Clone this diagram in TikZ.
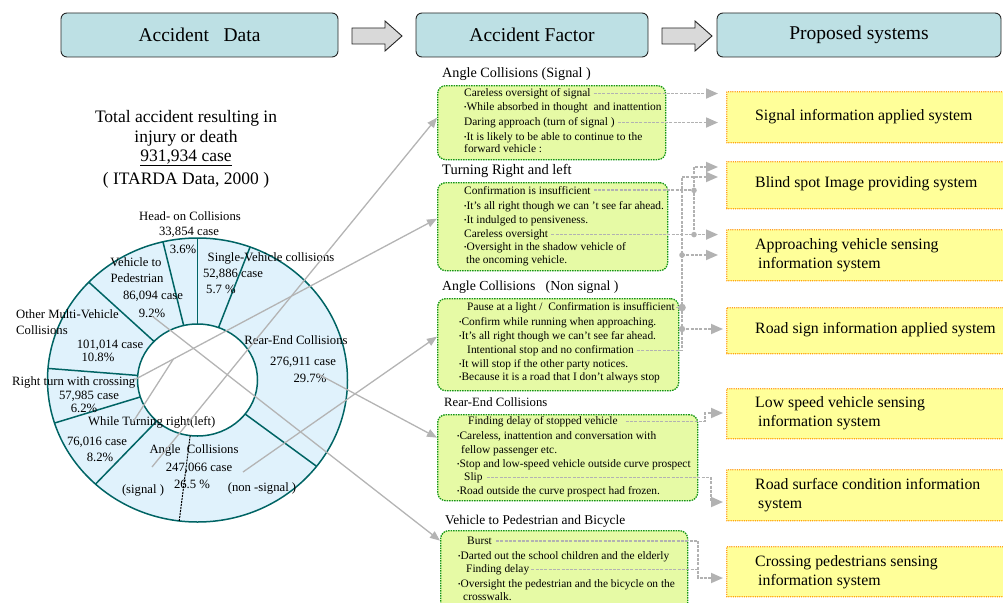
\documentclass[tikz,border=0pt]{standalone}
\usepackage{fontspec}
\setmainfont{Liberation Serif}
\usetikzlibrary{arrows.meta,calc}
\definecolor{hdrfill}{RGB}{189,224,228}
\definecolor{ringfill}{RGB}{224,242,252}
\definecolor{ringline}{RGB}{0,100,100}
\definecolor{ffill}{RGB}{230,250,165}
\definecolor{fline}{RGB}{20,150,20}
\definecolor{sfill}{RGB}{255,255,153}
\definecolor{sline}{RGB}{255,153,0}
\definecolor{cgray}{RGB}{178,178,178}
\definecolor{lgray}{RGB}{180,180,180}
\newcommand{\bu}{\raisebox{0.2ex}{\scalebox{0.6}{•}}}
\begin{document}
\begin{tikzpicture}[x=1pt,y=-1pt,
  hdr/.style={draw=black!85, fill=hdrfill, rounded corners=6pt, line width=0.9pt, minimum height=44pt, font=\fontsize{19.5}{19.5}\selectfont},
  blockarr/.style={draw=black!85, fill=black!15, line width=0.9pt},
  ring/.style={draw=ringline, line width=1.5pt},
  ttl/.style={font=\fontsize{17.5}{17.5}\selectfont, inner sep=0pt},
  dl/.style={font=\fontsize{12.7}{12.7}\selectfont, inner sep=0pt},
  dlw/.style={font=\fontsize{12.7}{12.7}\selectfont, inner sep=0pt, anchor=mid west},
  fbox/.style={draw=fline, fill=ffill, rounded corners=8pt, line width=1.3pt, dash pattern=on 1.5pt off 1pt, anchor=north west},
  fttl/.style={anchor=mid west, inner sep=0pt},
  ftx/.style={font=\fontsize{11.4}{11.4}\selectfont, anchor=mid west, inner sep=0pt},
  sbox/.style={draw=sline, fill=sfill, line width=1.5pt, line cap=round, dash pattern=on 0pt off 2.2pt, anchor=north west, minimum width=290pt},
  stx/.style={font=\fontsize{15.8}{19}\selectfont, anchor=west, inner sep=0pt, align=left},
  conn/.style={draw=cgray, line width=1.8pt, dash pattern=on 3pt off 1.3pt},
  tip/.style={-{Triangle[length=12pt,width=10pt]}},
  dline/.style={draw=lgray, line width=1.3pt, -{Triangle[length=10pt,width=8pt]}},
  dplain/.style={draw=lgray, line width=1.3pt},
  jdot/.style={fill=cgray}
  ]
\useasboundingbox (0,0) rectangle (1003,602);
\clip (0,0) rectangle (1003,602);

% ---------- header ----------
\node[hdr, minimum width=277pt] (h1) at (199.5,35) {Accident\ \ \ Data};
\node[hdr, minimum width=232pt] (h2) at (532,35) {Accident Factor};
\node[hdr, minimum width=284pt] (h3) at (859,35) {Proposed systems};
\draw[blockarr] (352,28) -- (385,28) -- (385,21) -- (402,36) -- (385,51) -- (385,44) -- (352,44) -- cycle;
\draw[blockarr] (662,28) -- (695,28) -- (695,21) -- (712,36) -- (695,51) -- (695,44) -- (662,44) -- cycle;

% ---------- donut ----------
\node[ttl] (t1) at (186,118) {Total accident resulting in};
\node[ttl] (t2) at (186,138) {injury or death};
\node[ttl] (t3) at (186,158) {\underline{931,934 case}};
\node[ttl] (t4) at (186,180) {( ITARDA Data, 2000 )};

\begin{scope}[shift={(197.5,380)}, yscale=-1]
  \fill[ringfill, even odd rule] (0,0) ellipse [x radius=150, y radius=142] (0,0) ellipse [x radius=60, y radius=56];
  \draw[ring] (0,0) ellipse [x radius=150, y radius=142];
  \draw[ring] (0,0) ellipse [x radius=60, y radius=56];
  \foreach \a in {90,69.48,-37.44,-132.84,-162.36,-184.68,-223.56,-256.68}
    \draw[ring] ({60*cos(\a)},{56*sin(\a)}) -- ({150*cos(\a)},{142*sin(\a)});
  \draw[black, line width=1pt, dash pattern=on 2pt off 1pt] ({60*cos(-97)},{56*sin(-97)}) -- ({150*cos(-97)},{142*sin(-97)});
\end{scope}

\node[dl] (ho1) at (190,216) {Head- on Collisions};
\node[dl] (ho2) at (189,232) {33,854 case};
\node[dl] (ho3) at (183,249) {3.6\%};
\node[dl] (sv1) at (271,258) {Single-Vehicle collisions};
\node[dl] (sv2) at (233,274) {52,886 case};
\node[dl] (sv3) at (221,289) {5.7 \%};
\node[dl] (vp1) at (136,262) {Vehicle to};
\node[dl] (vp2) at (137,278) {Pedestrian};
\node[dl] (vp3) at (153,296) {86,094 case};
\node[dl] (vp4) at (152,313) {9.2\%};
\node[dlw] (om1) at (16,316) {Other Multi-Vehicle};
\node[dlw] (om2) at (16,332) {Collisions};
\node[dl] (om3) at (110,345) {101,014 case};
\node[dl] (om4) at (98,357) {10.8\%};
\node[dlw] (rt1) at (12,383) {Right turn with crossing};
\node[dl] (rt2) at (89,396) {57,985 case};
\node[dl] (rt3) at (84,408) {6.2\%};
\node[dlw] (wt1) at (88,423) {While Turning right(left)};
\node[dl] (wt2) at (97,442) {76,016 case};
\node[dl] (wt3) at (100,457) {8.2\%};
\node[dl] (ac1) at (194,450) {Angle\ \ Collisions};
\node[dl] (ac2) at (199,468) {247,066 case};
\node[dl] (ac3) at (192,484) {26.5 \%};
\node[dl] (ac4) at (143,490) {(signal )};
\node[dl] (ac5) at (262,488) {(non -signal )};
\node[dl] (re1) at (296,340) {Rear-End Collisions};
\node[dl] (re2) at (303,362) {276,911 case};
\node[dl] (re3) at (310,378) {29.7\%};

% ---------- factor boxes ----------
\node[fttl, font=\fontsize{14.2}{14.2}\selectfont] (f1t) at (442,75) {Angle Collisions (Signal )};
\node[fbox, minimum width=228pt, minimum height=74pt] (f1) at (437,85) {};
\node[ftx] (f1a) at (464,94) {Careless oversight of signal};
\node[ftx] (f1b) at (464,108) {\bu While absorbed in thought\ \ and inattention};
\node[ftx] (f1c) at (464,123) {Daring approach (turn of signal )};
\node[ftx] (f1d) at (464,138) {\bu It is likely to be able to continue to the};
\node[ftx] (f1e) at (464,150) {forward vehicle :};

\node[fttl, font=\fontsize{14.5}{14.5}\selectfont] (f2t) at (442,172) {Turning Right and left};
\node[fbox, minimum width=230pt, minimum height=88pt] (f2) at (437,182) {};
\node[ftx] (f2a) at (464,192) {Confirmation is insufficient};
\node[ftx] (f2b) at (464,207) {\bu It’s all right though we can ’t see far ahead.};
\node[ftx] (f2c) at (464,221) {\bu It indulged to pensiveness.};
\node[ftx] (f2d) at (464,235) {Careless oversight};
\node[ftx] (f2e) at (464,248) {\bu Oversight in the shadow vehicle of};
\node[ftx] (f2f) at (466,261) {the oncoming vehicle.};

\node[fttl, font=\fontsize{13.8}{13.8}\selectfont] (f3t) at (442,288) {Angle Collisions\ \ \ (Non signal )};
\node[fbox, minimum width=241pt, minimum height=92pt] (f3) at (437,298) {};
\node[ftx] (f3a) at (467,308) {Pause at a light /\ \ Confirmation is insufficient};
\node[ftx] (f3b) at (459,323) {\bu Confirm while running when approaching.};
\node[ftx] (f3c) at (459,337) {\bu It’s all right though we can’t see far ahead.};
\node[ftx] (f3d) at (467,351) {Intentional stop and no confirmation};
\node[ftx] (f3e) at (459,365) {\bu It will stop if the other party notices.};
\node[ftx] (f3f) at (459,378) {\bu Because it is a road that I don't always stop};

\node[fttl, font=\fontsize{12.7}{12.7}\selectfont] (f4t) at (444,404) {Rear-End Collisions};
\node[fbox, minimum width=260pt, minimum height=86pt] (f4) at (437,414) {};
\node[ftx] (f4a) at (468,422) {Finding delay of stopped vehicle};
\node[ftx] (f4b) at (457,437) {\bu Careless, inattention and conversation with};
\node[ftx] (f4c) at (461,451) {fellow passenger etc.};
\node[ftx] (f4d) at (457,465) {\bu Stop and low-speed vehicle outside curve prospect};
\node[ftx] (f4e) at (464,478) {Slip};
\node[ftx] (f4f) at (457,492) {\bu Road outside the curve prospect had frozen.};

\node[fttl, font=\fontsize{13.4}{13.4}\selectfont] (f5t) at (445,522) {Vehicle to Pedestrian and Bicycle};
\node[fbox, minimum width=247pt, minimum height=80pt] (f5) at (440,530) {};
\node[ftx] (f5a) at (467,542) {Burst};
\node[ftx] (f5b) at (458,557) {\bu Darted out the school children and the elderly};
\node[ftx] (f5c) at (466,570) {Finding delay};
\node[ftx] (f5d) at (458,585) {\bu Oversight the pedestrian and the bicycle on the};
\node[ftx] (f5e) at (463,598) {crosswalk.};

% ---------- system boxes ----------
\node[sbox, minimum height=51pt] (s1) at (726,91) {};
\node[stx] (s1t) at (755,117) {Signal information applied system};
\node[sbox, minimum height=47pt] (s2) at (726,161) {};
\node[stx] (s2t) at (755,184) {Blind spot Image providing system};
\node[sbox, minimum height=51pt] (s3) at (726,229) {};
\node[stx] (s3t) at (755,255) {Approaching vehicle sensing\\\hspace{3pt}information system};
\node[sbox, minimum height=46pt] (s4) at (726,307) {};
\node[stx] (s4t) at (755,330) {Road sign information applied system};
\node[sbox, minimum height=50pt] (s5) at (726,388) {};
\node[stx] (s5t) at (755,413) {Low speed vehicle sensing\\\hspace{3pt}information system};
\node[sbox, minimum height=51pt] (s6) at (726,469) {};
\node[stx] (s6t) at (755,495) {Road surface condition information\\\hspace{3pt}system};
\node[sbox, minimum height=50pt] (s7) at (726,546) {};
\node[stx] (s7t) at (755,572) {Crossing pedestrians sensing\\\hspace{3pt}information system};

% ---------- donut -> factor lines ----------
\coordinate (d1) at (152,467);
\coordinate (d2) at (134,380);
\coordinate (d2b) at (133,422);
\coordinate (d3) at (243,472);
\coordinate (d4) at (318,374);
\coordinate (d5) at (152,316);
\coordinate (d2j) at ($(d2)!0.13!([yshift=8pt]f2.west)$);
\draw[dline] (d1) -- ([yshift=5pt]f1.west);
\draw[dline] (d2) -- ([yshift=8pt]f2.west);
\draw[dplain] (d2b) -- (d2j);
\draw[dline] (d3) -- ([yshift=8pt]f3.west);
\draw[dline] (d4) -- ([yshift=20pt]f4.west);
\draw[dline] (d5) -- ([yshift=30pt]f5.west);

% ---------- factor -> system connectors ----------
\coordinate (TX) at (718,0);
\coordinate (TY) at (723,0);
\coordinate (A) at (682,0);
\coordinate (B) at (694,0);
\coordinate (Btop) at (694,167);
\coordinate (Atop) at (682,177);
\coordinate (Aap) at (682,255);
\coordinate (Ars) at (682,329);
\coordinate (R1) at (705,0);
\coordinate (R2) at (711,0);
\coordinate (R3) at (698,0);
\coordinate (s5in) at (723,413);
\coordinate (s6in) at (723,502);
\coordinate (s7in) at (723,578);

\draw[conn,tip] ([xshift=3pt]f1a.east) -- (TX |- f1a.east);
\draw[conn,tip] ([xshift=3pt]f1c.east) -- (TX |- f1c.east);

\draw[conn] ([xshift=3pt]f2a.east) -- (B |- f2a.east);
\draw[conn,tip] ([xshift=3pt]f2d.east) -- (TX |- f2d.east);
\draw[conn,tip] (B |- f2d.east) -- (Btop) -- (TX |- Btop);
\fill[jdot] (B |- f2a.east) circle (2.8pt);
\fill[jdot] (B |- f2d.east) circle (2.8pt);

\draw[conn] ([xshift=3pt]f3d.east) -- (A |- f3d.east) -- (Atop);
\draw[conn,tip] (Atop) -- (TX |- Atop);
\draw[conn] ([xshift=1pt]f3a.east) -- (A |- f3a.east);
\draw[conn,tip] (Aap) -- (TX |- Aap);
\draw[conn,tip] (Ars) -- (TY |- Ars);
\fill[jdot] (A |- f3a.east) circle (3.8pt);
\fill[jdot] (Aap) circle (2.8pt);
\fill[jdot] (Ars) circle (3.2pt);

\draw[conn,tip] ([xshift=8pt]f4a.east) -- (R1 |- f4a.east) -- (R1 |- s5in) -- (s5in);
\draw[conn,tip] ([xshift=4pt]f4e.east) -- (R2 |- f4e.east) -- (R2 |- s6in) -- (s6in);
\draw[conn,tip] ([xshift=4pt]f5a.east) -- (R3 |- f5a.east) -- (R3 |- s7in) -- (s7in);
\draw[conn] ([xshift=2pt]f5c.east) -- (R3 |- f5c.east);
\end{tikzpicture}
\end{document}
